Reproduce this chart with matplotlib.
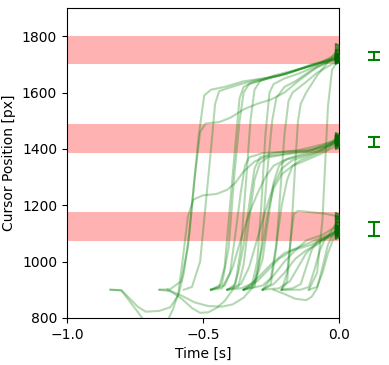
import matplotlib
matplotlib.use("Agg")
import matplotlib.pyplot as plt

# target bands (lower, upper) in px
band_low = [1700, 1385, 1073]
band_high = [1802, 1490, 1175]

# endpoint error bars (center, half-width) shown to the right of the axes
err_center = [1730, 1424, 1116]
err_half = [13, 19, 25]
err_x = 0.13

# trajectories: time [s] and cursor position [px]
traj_top = [
    [(-0.84,900),(-0.80,898),(-0.77,870),(-0.74,840),(-0.71,822),(-0.66,825),(-0.62,838),(-0.59,880),(-0.57,960),(-0.55,1100),(-0.53,1300),(-0.51,1460),(-0.49,1490),(-0.44,1495),(-0.40,1510),(-0.35,1540),(-0.30,1560),(-0.25,1575),(-0.20,1600),(-0.15,1640),(-0.08,1690),(0,1722)],
    [(-0.66,900),(-0.62,902),(-0.58,930),(-0.555,1050),(-0.535,1250),(-0.515,1450),(-0.495,1590),(-0.47,1610),(-0.42,1620),(-0.35,1640),(-0.28,1650),(-0.20,1665),(-0.12,1690),(-0.05,1710),(0,1725)],
    [(-0.57,900),(-0.54,910),(-0.51,1000),(-0.49,1200),(-0.47,1400),(-0.455,1560),(-0.44,1605),(-0.41,1615),(-0.36,1630),(-0.30,1645),(-0.22,1660),(-0.14,1685),(-0.06,1710),(0,1730)],
    [(-0.47,900),(-0.44,910),(-0.42,980),(-0.40,1200),(-0.38,1420),(-0.365,1580),(-0.35,1620),(-0.32,1635),(-0.26,1650),(-0.18,1670),(-0.10,1700),(0,1720)],
    [(-0.47,900),(-0.43,920),(-0.405,1050),(-0.385,1300),(-0.365,1500),(-0.35,1600),(-0.33,1630),(-0.28,1645),(-0.22,1660),(-0.15,1680),(-0.07,1705),(0,1730)],
    [(-0.41,900),(-0.38,920),(-0.36,1050),(-0.34,1300),(-0.325,1500),(-0.31,1610),(-0.29,1640),(-0.24,1660),(-0.16,1680),(-0.08,1700),(0,1740)],
    [(-0.35,900),(-0.32,915),(-0.30,1000),(-0.285,1200),(-0.27,1450),(-0.255,1600),(-0.24,1630),(-0.20,1650),(-0.14,1670),(-0.07,1700),(0,1725)],
    [(-0.35,900),(-0.31,910),(-0.285,1050),(-0.265,1300),(-0.245,1500),(-0.23,1580),(-0.20,1620),(-0.16,1640),(-0.10,1680),(-0.04,1710),(0,1725)],
    [(-0.28,900),(-0.25,920),(-0.23,1050),(-0.215,1250),(-0.20,1450),(-0.185,1570),(-0.17,1600),(-0.13,1630),(-0.08,1670),(0,1715)],
    [(-0.21,900),(-0.19,930),(-0.175,1100),(-0.16,1350),(-0.15,1500),(-0.14,1560),(-0.12,1600),(-0.08,1660),(-0.03,1720),(0,1760)],
    [(-0.11,900),(-0.08,960),(-0.06,1150),(-0.05,1350),(-0.04,1550),(-0.025,1680),(0,1720)],
]

traj_mid = [
    [(-0.84,900),(-0.80,898),(-0.77,860),(-0.74,822),(-0.72,795),(-0.66,780),(-0.63,790),(-0.61,830),(-0.59,890),(-0.575,1000),(-0.555,1160),(-0.535,1220),(-0.50,1235),(-0.45,1240),(-0.41,1255),(-0.38,1280),(-0.35,1320),(-0.31,1355),(-0.26,1375),(-0.18,1385),(-0.10,1395),(0,1438)],
    [(-0.66,900),(-0.62,895),(-0.58,870),(-0.54,835),(-0.51,818),(-0.48,820),(-0.45,835),(-0.42,860),(-0.39,900),(-0.37,960),(-0.35,1060),(-0.33,1200),(-0.31,1330),(-0.29,1370),(-0.24,1385),(-0.15,1395),(0,1430)],
    [(-0.47,900),(-0.43,905),(-0.40,960),(-0.38,1100),(-0.36,1250),(-0.345,1340),(-0.33,1370),(-0.28,1385),(-0.20,1390),(-0.12,1395),(-0.05,1410),(0,1432)],
    [(-0.41,900),(-0.37,910),(-0.35,990),(-0.33,1150),(-0.31,1290),(-0.29,1350),(-0.26,1370),(-0.20,1380),(-0.12,1390),(-0.05,1410),(0,1425)],
    [(-0.41,900),(-0.36,920),(-0.33,980),(-0.30,1080),(-0.27,1180),(-0.24,1270),(-0.21,1330),(-0.17,1360),(-0.12,1375),(-0.06,1395),(0,1445)],
    [(-0.35,900),(-0.31,920),(-0.28,1010),(-0.26,1150),(-0.24,1280),(-0.22,1340),(-0.19,1365),(-0.14,1380),(-0.08,1395),(0,1420)],
    [(-0.28,900),(-0.25,940),(-0.23,1060),(-0.21,1200),(-0.19,1290),(-0.17,1340),(-0.14,1360),(-0.09,1380),(-0.04,1400),(0,1440)],
    [(-0.47,900),(-0.42,915),(-0.39,980),(-0.36,1080),(-0.33,1170),(-0.30,1240),(-0.27,1300),(-0.24,1340),(-0.20,1360),(-0.14,1375),(-0.08,1390),(0,1430)],
    [(-0.63,900),(-0.58,880),(-0.53,855),(-0.48,842),(-0.43,840),(-0.39,848),(-0.35,872),(-0.32,905),(-0.30,960),(-0.28,1060),(-0.26,1180),(-0.24,1260),(-0.21,1310),(-0.17,1340),(-0.12,1360),(-0.06,1385),(0,1415)],
]

traj_bot = [
    [(-0.21,900),(-0.19,960),(-0.175,1100),(-0.165,1170),(-0.15,1180),(-0.10,1175),(-0.05,1170),(0,1160)],
    [(-0.28,900),(-0.24,920),(-0.20,960),(-0.16,1010),(-0.12,1040),(-0.08,1060),(-0.04,1090),(0,1120)],
    [(-0.35,900),(-0.30,940),(-0.25,990),(-0.20,1030),(-0.15,1050),(-0.10,1070),(-0.05,1090),(0,1110)],
    [(-0.21,900),(-0.17,905),(-0.14,920),(-0.12,980),(-0.10,1040),(-0.08,1070),(-0.04,1090),(0,1105)],
    [(-0.21,900),(-0.14,900),(-0.11,910),(-0.09,970),(-0.07,1040),(-0.05,1080),(-0.02,1100),(0,1115)],
    [(-0.24,900),(-0.20,885),(-0.16,868),(-0.12,863),(-0.10,875),(-0.08,905),(-0.06,980),(-0.04,1060),(-0.02,1100),(0,1120)],
    [(-0.28,900),(-0.22,905),(-0.18,930),(-0.15,980),(-0.12,1030),(-0.09,1060),(-0.05,1080),(0,1100)],
    [(-0.11,900),(-0.08,910),(-0.06,960),(-0.04,1030),(-0.02,1080),(0,1095)],
    [(-0.35,900),(-0.28,915),(-0.24,950),(-0.20,1000),(-0.16,1040),(-0.12,1075),(-0.06,1095),(0,1130)],
    [(-0.41,900),(-0.36,905),(-0.30,930),(-0.26,970),(-0.22,1010),(-0.17,1040),(-0.10,1060),(-0.04,1090),(0,1150)],
]

fig = plt.figure(figsize=(3.89, 3.65), dpi=100)
ax = fig.add_axes([0.172, 0.129, 0.699, 0.849])

for lo, hi in zip(band_low, band_high):
    ax.axhspan(lo, hi, color='red', alpha=0.3, lw=0, zorder=0)

for traj in traj_top + traj_mid + traj_bot:
    t = [p[0] for p in traj]
    y = [p[1] for p in traj]
    ax.plot(t, y, color='green', alpha=0.3, lw=1.5, zorder=2)
    ax.plot([t[-1]], [y[-1]], marker='>', color='darkgreen', ms=6, alpha=0.6,
            linestyle='none', clip_on=True, zorder=3)

ax.errorbar([err_x] * 3, err_center, yerr=err_half, fmt='none', ecolor='green',
            capsize=4, lw=1.5, capthick=1.5, clip_on=False, zorder=3)
for c in ax.containers:
    for art in c.get_children():
        art.set_clip_on(False)

ax.set_xlim(-1.0, 0.0)
ax.set_ylim(800, 1900)
ax.set_xticks([-1.0, -0.5, 0.0])
ax.set_yticks([800, 1000, 1200, 1400, 1600, 1800])
ax.set_xlabel('Time [s]')
ax.set_ylabel('Cursor Position [px]')

fig.savefig('out.png', dpi=100)
